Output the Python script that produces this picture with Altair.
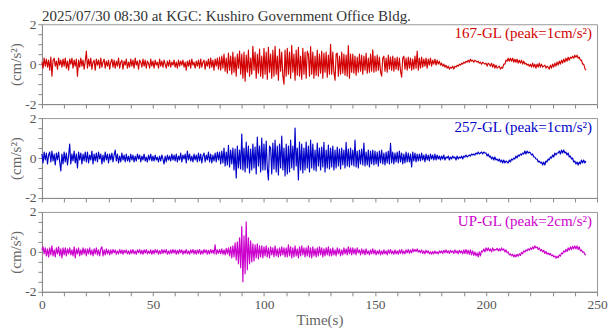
import altair as alt
import numpy as np
import pandas as pd

FONT = "Liberation Serif"
TITLE = "2025/07/30 08:30 at KGC: Kushiro Government Office Bldg."
DT = 0.5  # sampling step of the hand-read traces (s)

names = ["167-GL (peak=1cm/s²)", "257-GL (peak=1cm/s²)", "UP-GL (peak=2cm/s²)"]
colors = ["#d20000", "#0000c8", "#cc00cc"]

# 167-GL, one row = 10 s (20 samples)
gl167 = [
    0.1, -0.2, 0.3, -0.1, 0.25, -0.15, 0.2, -0.3, 0.35, -0.6, 0.2, 0.3, -0.1, 0.15, -0.25, 0.3, -0.05, 0.2, -0.15, 0.25,
    -0.1, 0.3, -0.2, 0.15, -0.3, 0.25, 0.0, 0.3, -0.2, 0.2, -0.1, 0.25, -0.6, 0.2, -0.15, 0.3, -0.1, 0.2, -0.25, 0.15,
    0.65, -0.2, 0.25, -0.1, 0.3, -0.25, 0.1, 0.2, -0.3, 0.25, -0.05, 0.2, -0.2, 0.3, -0.15, 0.1, 0.25, -0.2, 0.15, -0.1,
    0.2, -0.25, 0.1, 0.25, -0.15, 0.2, -0.2, 0.15, -0.1, 0.3, -0.2, 0.1, 0.2, -0.25, 0.15, -0.05, 0.25, -0.2, 0.1, -0.15,
    0.25, -0.1, 0.2, -0.2, 0.3, -0.05, 0.15, -0.25, 0.2, 0.1, -0.15, 0.25, -0.1, 0.2, -0.2, 0.15, 0.05, -0.2, 0.25, -0.1,
    0.15, -0.2, 0.2, -0.05, 0.1, -0.2, 0.25, -0.1, 0.15, -0.15, 0.2, 0.0, -0.2, 0.15, -0.1, 0.2, -0.15, 0.1, -0.05, 0.2,
    -0.15, 0.1, -0.2, 0.2, -0.1, 0.15, -0.05, 0.2, -0.15, 0.1, -0.3, 0.15, -0.1, 0.2, -0.2, 0.25, -0.05, 0.1, -0.2, 0.15,
    -0.1, 0.2, -0.2, 0.25, -0.15, 0.1, 0.2, -0.25, 0.15, -0.1, 0.25, -0.2, 0.3, -0.15, 0.2, -0.3, 0.25, -0.1, 0.3, -0.25,
    0.35, -0.3, 0.4, -0.2, 0.5, -0.35, 0.3, -0.45, 0.55, -0.3, 0.4, -0.5, 0.6, -0.4, 0.35, -0.6, 0.5, -0.2, 0.65, -0.5,
    0.5, -0.7, 0.6, -0.85, 0.45, -0.4, 0.7, -0.6, 0.3, -0.5, 0.9, -0.3, 0.6, -0.7, 0.5, -0.45, 0.75, -0.6, 0.4, -0.7,
    0.8, -0.5, 0.6, -0.75, 0.85, -0.4, 0.5, -0.7, 0.7, -0.6, 0.9, -0.5, 0.4, -0.8, 0.75, -0.35, 0.6, -0.6, -1.0, 0.7,
    -0.6, 0.8, -0.5, 0.6, -0.7, 0.95, -0.4, 0.5, -0.8, 0.7, -0.55, 0.85, -0.6, 0.4, -0.75, 0.8, -0.5, 0.6, -0.7, 0.65,
    0.5, -0.6, 0.88, -0.5, 0.6, -0.7, 0.4, -0.55, 0.7, -0.6, 0.5, -0.45, 0.65, -0.7, 0.55, -0.4, 0.6, -0.65, 0.45, -0.5,
    1.0, -0.5, 0.6, -0.4, -0.8, 0.5, 0.55, -0.6, 0.4, -0.5, 0.6, -0.45, 0.5, -0.55, 0.45, -0.6, 0.93, -0.7, 0.5, -0.4,
    0.5, -0.45, 0.4, -0.55, 0.35, -0.4, 0.5, -0.35, 0.45, -0.5, 0.4, -0.3, 0.55, -0.45, 0.3, -0.4, 0.5, -0.35, 0.72, -0.4,
    0.4, -0.35, 0.45, -0.3, 0.35, -0.4, -0.6, 0.3, 0.4, -0.35, 0.3, -0.4, 0.45, -0.25, 0.35, -0.3, 0.4, -0.35, 0.3, -0.25,
    0.35, -0.3, 0.3, -0.35, -0.65, 0.3, 0.4, -0.25, 0.3, -0.3, 0.35, -0.2, 0.3, -0.3, 0.25, -0.25, 0.4, -0.2, 0.65, -0.3,
    0.3, -0.2, 0.35, -0.15, 0.25, -0.1, 0.3, -0.2, 0.25, -0.05, 0.3, -0.1, 0.2, 0.0, 0.25, -0.05, 0.2, 0.0, 0.15, -0.05,
    0.05, -0.1, 0.0, -0.15, -0.05, -0.2, -0.1, -0.25, -0.15, -0.2, -0.1, -0.25, -0.1, -0.15, -0.05, -0.1, 0.0, -0.05, 0.05, 0.0,
    0.1, 0.05, 0.15, 0.1, 0.2, 0.1, 0.25, 0.15, 0.2, 0.1, 0.2, 0.15, 0.1, 0.15, 0.05, 0.1, 0.0, 0.1, 0.05, 0.0,
    0.05, -0.1, 0.05, 0.0, -0.1, 0.05, -0.15, 0.0, -0.2, -0.05, -0.2, -0.15, -0.1, -0.25, -0.15, -0.2, 0.0, 0.0, 0.2, 0.15,
    0.3, 0.15, 0.3, 0.15, 0.3, 0.1, 0.25, 0.1, 0.25, 0.05, 0.2, 0.05, 0.2, 0.0, 0.15, 0.0, 0.05, -0.05, 0.0, -0.1,
    0.0, -0.15, 0.05, -0.15, 0.0, -0.2, 0.0, -0.15, 0.05, -0.15, 0.0, -0.15, -0.1, -0.05, -0.2, -0.1, -0.15, -0.25, -0.05, -0.2,
    0.0, -0.15, 0.05, -0.1, 0.1, -0.05, 0.15, 0.0, 0.2, 0.05, 0.25, 0.1, 0.3, 0.15, 0.35, 0.2, 0.35, 0.3, 0.4, 0.3,
    0.45, 0.35, 0.45, 0.3, 0.35, 0.2, 0.2, 0.0, 0.0, -0.2, -0.3,
]

# 257-GL
gl257 = [
    0.2, -0.25, 0.3, -0.1, 0.25, -0.3, 0.15, 0.3, -0.2, 0.35, -0.15, 0.2, -0.35, 0.25, -0.1, 0.3, -0.2, -0.65, 0.2, -0.3,
    0.3, -0.2, 0.25, -0.35, 0.1, 0.7, -0.3, 0.2, -0.15, 0.35, -0.25, 0.2, -0.5, 0.3, -0.1, 0.25, -0.3, 0.2, -0.15, 0.3,
    -0.2, 0.3, -0.25, 0.15, -0.1, 0.35, -0.3, 0.2, -0.15, 0.25, -0.2, 0.3, -0.05, 0.2, -0.3, 0.15, -0.2, 0.3, -0.1, 0.2,
    -0.25, 0.2, -0.1, 0.25, -0.2, 0.15, 0.4, -0.15, 0.2, -0.25, 0.1, -0.2, 0.25, -0.1, 0.15, -0.2, 0.2, -0.15, 0.1, -0.2,
    0.2, -0.1, 0.15, -0.2, 0.1, -0.15, 0.2, -0.05, 0.15, -0.2, 0.1, -0.1, 0.2, -0.15, 0.05, -0.2, 0.15, -0.1, 0.2, -0.15,
    0.1, -0.15, 0.15, -0.1, 0.05, -0.2, 0.1, -0.15, 0.15, -0.05, -0.3, 0.1, -0.2, 0.15, -0.1, 0.1, -0.15, 0.2, -0.1, 0.15,
    -0.15, 0.2, -0.2, 0.1, -0.1, 0.25, -0.2, 0.15, -0.05, 0.2, -0.25, 0.35, -0.1, 0.2, -0.15, 0.1, -0.2, 0.2, -0.1, 0.15,
    -0.2, 0.25, -0.15, 0.2, -0.25, 0.1, 0.25, -0.2, 0.15, -0.1, 0.3, -0.2, 0.2, -0.25, 0.15, -0.15, 0.25, -0.2, 0.3, -0.1,
    0.3, -0.3, 0.35, -0.25, 0.5, -0.4, 0.3, -0.35, 0.63, -0.45, 0.4, -0.3, 0.5, -0.6, 0.45, -1.0, 0.6, -0.5, 0.4, -0.55,
    1.2, -0.6, 0.5, -0.7, 0.8, -0.5, 0.6, -0.75, 0.45, -0.6, 0.7, -0.5, 0.55, -0.8, 1.05, -0.4, 0.6, -0.7, 1.0, -0.6,
    0.7, -0.6, 0.85, -0.5, -1.1, 0.6, 0.5, -0.8, 0.75, -0.55, 0.9, -0.7, 0.6, -0.85, 0.7, -0.5, 1.1, -0.6, 0.5, -0.9,
    0.7, -0.8, 0.6, -0.7, 0.9, -0.5, 0.6, -0.6, 1.5, -0.4, 0.5, -1.1, 0.8, -0.6, 0.7, -0.75, 0.5, -0.6, 0.8, -0.5,
    0.6, -0.7, 0.9, -0.5, 0.7, -0.6, 0.4, -0.65, 0.75, -0.4, 0.5, -0.6, 0.55, -0.45, 0.78, -0.7, 0.4, -0.5, 0.65, -0.55,
    0.5, -0.45, 0.6, -0.6, 0.4, -0.5, 0.55, -0.4, 0.45, -0.55, 0.5, -0.35, 0.4, -0.5, 0.78, -0.4, 0.45, -0.45, 0.5, -0.35,
    0.4, -0.4, 0.9, -0.45, 0.35, -0.5, 0.4, -0.3, 0.45, -0.35, 0.75, -0.4, 0.3, -0.35, 0.4, -0.45, 0.35, -0.3, 0.4, -0.35,
    0.35, -0.3, 0.3, -0.4, 0.35, -0.25, 0.4, -0.3, 0.25, -0.35, 0.3, -0.25, 0.35, -0.3, 0.74, -0.25, 0.3, -0.3, 0.25, -0.2,
    0.3, -0.25, 0.35, -0.2, 0.25, -0.3, 0.2, -0.25, 0.3, -0.2, 0.25, -0.2, 0.2, -0.45, 0.3, -0.15, 0.25, -0.2, 0.2, -0.15,
    0.2, -0.15, 0.25, -0.1, 0.15, -0.2, 0.2, -0.1, 0.15, -0.15, 0.2, -0.05, 0.15, -0.1, 0.2, -0.1, 0.15, -0.05, 0.1, -0.1,
    0.1, -0.05, 0.15, -0.1, 0.05, 0.0, 0.1, -0.1, 0.05, -0.05, 0.1, 0.0, 0.05, -0.1, 0.1, -0.05, 0.05, 0.0, 0.1, -0.05,
    0.1, 0.05, 0.15, 0.05, 0.1, 0.15, 0.1, 0.2, 0.15, 0.2, 0.15, 0.25, 0.2, 0.3, 0.2, 0.25, 0.3, 0.2, 0.3, 0.25,
    0.25, 0.1, 0.2, 0.05, 0.1, -0.05, 0.05, -0.1, 0.05, -0.1, -0.05, -0.15, -0.05, -0.2, -0.1, -0.25, -0.1, -0.25, -0.15, -0.2,
    -0.25, -0.1, -0.2, -0.05, -0.1, 0.0, -0.05, 0.1, 0.0, 0.15, 0.1, 0.2, 0.15, 0.25, 0.2, 0.35, 0.2, 0.35, 0.25, 0.3,
    0.25, 0.15, 0.2, 0.05, 0.05, -0.05, -0.05, -0.2, -0.15, -0.25, -0.2, -0.35, -0.2, -0.35, -0.15, -0.2, -0.05, -0.1, 0.05, 0.0,
    0.15, 0.05, 0.25, 0.15, 0.25, 0.25, 0.35, 0.2, 0.4, 0.25, 0.4, 0.25, 0.3, 0.15, 0.25, 0.05, 0.1, -0.05, 0.0, -0.2,
    -0.15, -0.3, -0.2, -0.35, -0.2, -0.3, -0.1, -0.25, -0.1, -0.25, -0.15,
]

# UP-GL
glup = [
    0.1, 0.25, -0.1, 0.2, -0.2, 0.15, -0.25, 0.2, -0.15, 0.3, -0.2, 0.1, -0.25, 0.2, -0.1, 0.25, -0.2, 0.15, -0.3, 0.2,
    -0.15, 0.2, -0.2, 0.15, -0.1, 0.2, -0.15, 0.1, -0.2, 0.25, -0.3, 0.15, -0.1, 0.2, -0.2, 0.1, -0.15, 0.2, -0.1, 0.15,
    -0.2, 0.15, -0.1, 0.2, -0.15, 0.1, -0.2, 0.15, -0.1, 0.2, -0.15, 0.1, -0.2, 0.15, 0.25, -0.2, 0.1, -0.15, 0.15, -0.1,
    0.1, -0.15, 0.1, -0.1, 0.12, -0.05, 0.1, -0.12, 0.05, -0.1, 0.12, -0.08, 0.1, -0.12, 0.08, -0.05, 0.1, -0.1, 0.05, -0.12,
    0.1, -0.08, 0.12, -0.1, 0.05, -0.12, 0.1, -0.05, 0.12, -0.1, 0.08, -0.12, 0.1, -0.06, 0.12, -0.1, 0.05, -0.08, 0.1, -0.12,
    0.08, -0.1, 0.12, -0.05, 0.1, -0.12, 0.06, -0.1, 0.12, -0.08, 0.1, -0.05, 0.12, -0.12, 0.05, -0.1, 0.1, -0.08, 0.12, -0.06,
    0.1, -0.12, 0.08, -0.1, 0.12, -0.05, 0.1, -0.12, 0.06, -0.08, 0.12, -0.1, 0.05, -0.12, 0.1, -0.06, 0.12, -0.1, 0.08, -0.12,
    0.1, -0.08, 0.12, -0.12, 0.06, -0.1, 0.12, -0.05, 0.1, -0.12, 0.08, -0.1, 0.12, -0.06, 0.1, -0.1, 0.35, -0.12, 0.1, -0.08,
    0.12, -0.1, 0.15, -0.12, 0.1, -0.15, 0.18, -0.1, 0.2, -0.2, 0.25, -0.3, 0.3, -0.25, 0.45, -0.4, 0.5, -0.6, 0.7, -0.8,
    1.27, -1.5, 0.8, -1.1, 1.5, -0.9, 0.7, -0.6, 0.55, -0.5, 0.4, -0.45, 0.35, -0.3, 0.4, -0.35, 0.3, -0.25, 0.3, -0.3,
    0.25, -0.2, 0.3, -0.25, 0.2, -0.3, 0.25, -0.15, 0.2, -0.25, 0.3, -0.2, 0.15, -0.25, 0.2, -0.2, 0.25, -0.15, 0.2, -0.25,
    0.2, -0.25, 0.35, -0.2, 0.25, -0.3, 0.2, -0.25, 0.3, -0.2, 0.15, -0.3, 0.25, -0.2, 0.3, -0.15, 0.2, -0.25, 0.2, -0.2,
    0.3, -0.25, 0.2, -0.3, 0.25, -0.2, 0.15, -0.25, 0.2, -0.2, 0.25, -0.15, 0.2, -0.25, 0.15, -0.2, 0.2, -0.15, 0.25, -0.2,
    0.15, -0.2, 0.2, -0.15, 0.1, -0.2, 0.2, -0.1, 0.15, -0.2, 0.1, -0.15, 0.2, -0.1, 0.15, -0.15, 0.25, -0.1, 0.2, -0.15,
    0.2, -0.1, 0.15, -0.15, 0.2, -0.05, 0.1, -0.15, 0.15, -0.1, 0.1, -0.15, 0.15, -0.1, 0.05, -0.15, 0.1, -0.1, 0.15, -0.1,
    0.1, -0.15, 0.05, -0.1, 0.1, -0.15, 0.05, -0.12, 0.1, -0.1, 0.05, -0.15, 0.1, -0.08, 0.12, -0.1, 0.05, -0.12, 0.1, -0.1,
    0.05, -0.12, 0.1, -0.08, 0.12, -0.1, 0.05, -0.1, 0.1, -0.05, 0.12, -0.08, 0.1, -0.05, 0.15, 0.0, 0.12, 0.02, 0.15, -0.02,
    0.08, -0.05, 0.1, -0.08, 0.05, -0.1, 0.08, -0.05, 0.05, -0.1, 0.0, -0.12, 0.02, -0.1, 0.05, -0.08, 0.0, -0.1, 0.05, -0.05,
    0.05, -0.08, 0.08, -0.05, 0.1, -0.05, 0.05, -0.08, 0.08, -0.03, 0.05, -0.08, 0.1, -0.05, 0.05, -0.1, 0.08, -0.05, 0.05, -0.1,
    0.1, -0.08, 0.12, -0.1, 0.08, -0.12, 0.1, -0.15, 0.05, -0.18, 0.0, -0.2, -0.05, -0.25, 0.0, -0.2, 0.05, 0.0, 0.15, 0.0,
    0.2, 0.05, 0.2, 0.05, 0.15, 0.0, 0.2, 0.05, 0.12, 0.1, 0.18, 0.05, 0.15, 0.05, 0.2, 0.08, 0.15, 0.0, 0.1, -0.05,
    0.0, -0.15, -0.1, -0.2, -0.12, -0.25, -0.15, -0.25, -0.12, -0.22, -0.1, -0.18, -0.02, -0.1, 0.05, -0.02, 0.1, 0.05, 0.15, 0.08,
    0.2, 0.12, 0.25, 0.15, 0.3, 0.2, 0.25, 0.12, 0.2, 0.05, 0.12, 0.0, 0.08, -0.08, 0.02, -0.12, -0.05, -0.15, -0.08, -0.2,
    -0.15, -0.25, -0.2, -0.32, -0.22, -0.3, -0.15, -0.22, -0.05, -0.1, 0.05, -0.02, 0.12, 0.02, 0.2, 0.08, 0.25, 0.12, 0.28, 0.15,
    0.3, 0.15, 0.3, 0.12, 0.25, 0.05, 0.1, -0.02, 0.0, -0.12, -0.16,
]

x_ticks = list(range(0, 251, 10))
y_ticks = [-2, -1.5, -1, -0.5, 0, 0.5, 1, 1.5, 2]

W, H = 556, 80


def panel(values, color, label, bottom=False, title=None):
    df = pd.DataFrame({"t": np.arange(len(values)) * DT, "a": values})
    xa = dict(values=x_ticks, labelFlush=False, tickSize=4)
    if bottom:
        xa.update(labelExpr="datum.value % 50 == 0 ? datum.label : ''", title="Time(s)")
    else:
        xa.update(labels=False, title="")
    ya = alt.Axis(
        values=y_ticks,
        labelExpr="datum.value == 0 ? '0' : datum.value == 2 ? '2' : datum.value == -2 ? '-2' : ''",
        labelOverlap=False,
        title="(cm/s²)",
        tickSize=4,
    )
    line = alt.Chart(df).mark_line(color=color, strokeWidth=1.15, strokeJoin="round").encode(
        x=alt.X("t:Q", scale=alt.Scale(domain=[0, 250], nice=False, zero=False), axis=alt.Axis(**xa)),
        y=alt.Y("a:Q", scale=alt.Scale(domain=[-2, 2], nice=False), axis=ya),
    )
    txt = alt.Chart(pd.DataFrame({"lab": [label]})).mark_text(
        align="right", baseline="alphabetic", color=color, font=FONT, fontSize=15
    ).encode(x=alt.value(W - 5), y=alt.value(14), text="lab:N")
    ch = alt.layer(line, txt).properties(width=W, height=H)
    if title:
        ch = ch.properties(
            title=alt.TitleParams(
                text=title, anchor="start", frame="group", font=FONT, fontSize=15,
                fontWeight="normal", color="#333", offset=-7,
            )
        )
    return ch


chart = (
    alt.vconcat(
        panel(gl167, colors[0], names[0], title=TITLE),
        panel(gl257, colors[1], names[1]),
        panel(glup, colors[2], names[2], bottom=True),
        spacing=14,
        bounds="flush",
    )
    .properties(padding=0)
    .configure_view(stroke="#999", strokeWidth=1)
    .configure_axis(
        domainColor="#888", tickColor="#888", labelColor="#555", titleColor="#666",
        labelFont=FONT, titleFont=FONT, labelFontSize=13.5, titleFontSize=15,
        titleFontWeight="normal", grid=False, labelPadding=2, titlePadding=1,
    )
)

chart.save("out.html", embed_options={"renderer": "svg", "actions": False})
